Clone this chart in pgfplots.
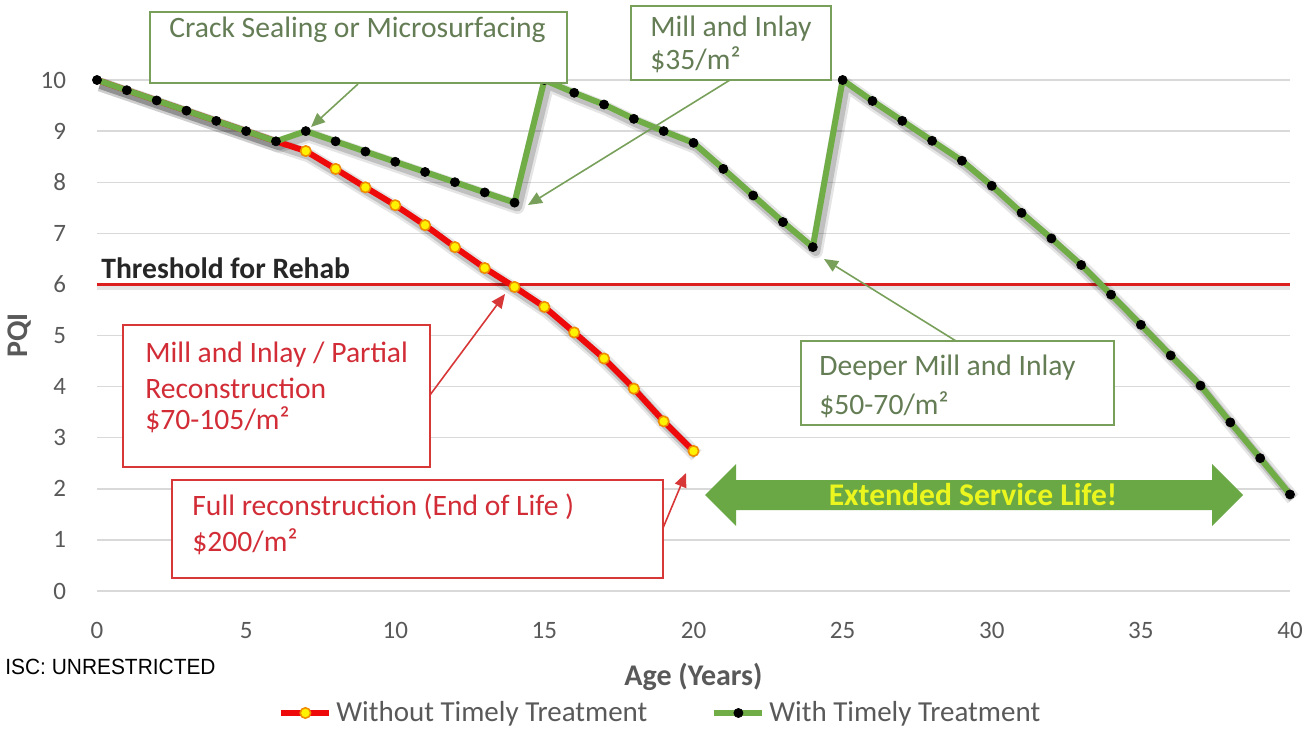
\documentclass[border=0pt]{standalone}
\usepackage{pgfplots}
\pgfplotsset{compat=1.18}
\usepackage{fontspec}
\setmainfont{Carlito}
\newfontfamily\arialfont{Liberation Sans}
\usetikzlibrary{arrows.meta}
\definecolor{xlgreen}{RGB}{112,173,71}
\definecolor{xlred}{RGB}{238,10,10}
\definecolor{thresh}{RGB}{220,30,30}
\definecolor{mkorange}{RGB}{240,140,0}
\definecolor{tickgray}{RGB}{89,89,89}
\definecolor{gridgray}{RGB}{217,217,217}
\definecolor{boxgreen}{RGB}{120,160,90}
\definecolor{txtgreen}{RGB}{100,125,85}
\definecolor{boxred}{RGB}{215,55,55}
\definecolor{txtred}{RGB}{210,45,55}
\definecolor{darktext}{RGB}{38,38,38}
\definecolor{arrowgreen}{RGB}{106,168,70}
\definecolor{arrowtext}{RGB}{235,245,30}
\newcommand\annfont{\fontsize{14.8}{17}\selectfont}

\pgfplotstableread{
x y
0 10
1 9.8
2 9.6
3 9.4
4 9.2
5 9.0
6 8.8
7 8.61
8 8.26
9 7.90
10 7.55
11 7.16
12 6.73
13 6.32
14 5.95
15 5.56
16 5.06
17 4.55
18 3.96
19 3.32
20 2.74
}\without

\pgfplotstableread{
x y
0 10
1 9.8
2 9.6
3 9.4
4 9.2
5 9.0
6 8.8
7 9.0
8 8.8
9 8.6
10 8.4
11 8.2
12 8.0
13 7.8
14 7.6
15 10
16 9.75
17 9.52
18 9.24
19 9.0
20 8.77
21 8.26
22 7.74
23 7.22
24 6.73
25 10
26 9.59
27 9.2
28 8.81
29 8.42
30 7.93
31 7.40
32 6.90
33 6.38
34 5.80
35 5.21
36 4.61
37 4.02
38 3.30
39 2.60
40 1.89
}\withtt

\begin{document}
\begin{tikzpicture}
\path[use as bounding box] (-48.5pt,-69.5pt) rectangle (606pt,295.5pt);
\begin{axis}[
  at={(0,0)}, anchor=south west,
  scale only axis, width=596.5pt, height=255.5pt,
  xmin=0, xmax=40, ymin=0, ymax=10,
  xtick={0,5,...,40}, ytick={0,1,...,10},
  ymajorgrids, grid style={gridgray, line width=0.7pt},
  axis line style={draw=none},
  major tick style={draw=none},
  /pgf/number format/assume math mode=true,
  tick label style={font=\fontsize{12.5}{14}\selectfont, text=tickgray},
  yticklabel style={xshift=-12pt},
  xticklabel style={yshift=-12pt},
  xlabel={Age (Years)}, ylabel={PQI},
  label style={font=\bfseries\fontsize{15}{17}\selectfont, text=tickgray},
  xlabel style={at={(axis description cs:0.5,-0.1683)}, anchor=center},
  ylabel style={at={(axis description cs:-0.0646,0.5)}, anchor=center},
  clip=false,
  legend columns=2,
  legend style={at={(0.473,-0.2387)}, anchor=center, draw=none, fill=none,
    font=\fontsize{14.5}{16}\selectfont, text=tickgray,
    /tikz/every even column/.append style={column sep=30pt},
    /tikz/every odd column/.append style={column sep=0pt}},
  legend cell align=left,
  legend image code/.code={\draw[mark repeat=2,mark phase=2,#1] plot coordinates {(0pt,0pt) (12pt,0pt) (24pt,0pt)};},
]
% threshold shadow and line
\addplot[forget plot, draw=black, opacity=0.10, line width=3pt, yshift=-1.5pt] coordinates {(0,6) (40,6)};
\addplot[forget plot, draw=thresh, line width=1.5pt] coordinates {(0,6) (40,6)};
% red series shadow
\addplot[forget plot, draw=black, opacity=0.16, line width=4.5pt, xshift=1.5pt, yshift=-2.2pt, line join=round] table {\without};
\addplot[forget plot, draw=black, opacity=0.10, line width=7pt, xshift=1.5pt, yshift=-2.2pt, line join=round] table {\without};
% green series shadow
\addplot[forget plot, draw=black, opacity=0.16, line width=4.5pt, xshift=1.5pt, yshift=-2.2pt, line join=round] table {\withtt};
\addplot[forget plot, draw=black, opacity=0.10, line width=7pt, xshift=1.5pt, yshift=-2.2pt, line join=round] table {\withtt};
% series
\addplot[forget plot, draw=xlred, line width=3pt, line join=round, mark=*, mark size=2.6pt,
  mark indices={8,...,21},
  mark options={fill=yellow, draw=mkorange, line width=0.8pt}] table {\without};
\addplot[forget plot, draw=xlgreen, line width=3pt, line join=round, mark=*, mark size=2.3pt,
  mark options={fill=black, draw=black, line width=0.3pt}] table {\withtt};
\addlegendimage{draw=xlred, line width=3pt, mark=*, mark size=2.6pt, mark options={fill=yellow, draw=mkorange, line width=0.8pt}}
\addlegendentry{Without Timely Treatment}
\addlegendimage{draw=xlgreen, line width=3pt, mark=*, mark size=2.3pt, mark options={fill=black, draw=black, line width=0.3pt}}
\addlegendentry{With Timely Treatment}
\end{axis}

\begin{scope}[x=0.5pt, y=-0.5pt, shift={(-97,-591)}]
% Crack sealing box
\draw[boxgreen, line width=0.9pt, fill=white] (150,12) rectangle (567,83);
\node[anchor=west, inner sep=0, text=txtgreen, font=\annfont] at (169,30) {Crack Sealing or Microsurfacing};
\draw[boxgreen, line width=0.8pt, -{Triangle[length=7pt,width=6pt]}] (358,84) -- (311,127);
% Mill and inlay box
\draw[boxgreen, line width=0.9pt, fill=white] (631,6) rectangle (831,80);
\node[anchor=west, inner sep=0, text=txtgreen, font=\annfont] at (650,29) {Mill and Inlay};
\node[anchor=west, inner sep=0, text=txtgreen, font=\annfont] at (650,60) {\$35/m²};
\draw[boxgreen, line width=0.8pt, -{Triangle[length=7pt,width=6pt]}] (730,80) -- (528,205);
% Deeper mill box
\draw[boxgreen, line width=0.9pt, fill=white] (801,341) rectangle (1114,425);
\node[anchor=west, inner sep=0, text=txtgreen, font=\annfont] at (819,368) {Deeper Mill and Inlay};
\node[anchor=west, inner sep=0, text=txtgreen, font=\annfont] at (819,405) {\$50-70/m²};
\draw[boxgreen, line width=0.8pt, -{Triangle[length=7pt,width=6pt]}] (956,341) -- (824,259);
% Red boxes
\draw[boxred, line width=0.9pt, fill=white] (123,325) rectangle (430,467);
\node[anchor=west, inner sep=0, text=txtred, font=\annfont] at (145,355) {Mill and Inlay / Partial};
\node[anchor=west, inner sep=0, text=txtred, font=\annfont] at (145,388) {Reconstruction};
\node[anchor=west, inner sep=0, text=txtred, font=\annfont] at (145,420) {\$70-105/m²};
\draw[boxred, line width=0.8pt, -{Triangle[length=7pt,width=6pt]}] (430,395) -- (505,294);
\draw[boxred, line width=0.9pt, fill=white] (172,480) rectangle (663,578);
\node[anchor=west, inner sep=0, text=txtred, font=\annfont] at (192,507) {Full reconstruction (End of Life )};
\node[anchor=west, inner sep=0, text=txtred, font=\annfont] at (192,542) {\$200/m²};
\draw[boxred, line width=0.8pt, -{Triangle[length=7pt,width=6pt]}] (663,528) -- (686,473);
% Threshold label
\node[anchor=west, inner sep=0, text=darktext, font=\bfseries\annfont] at (101,268) {Threshold for Rehab};
% Extended service life arrow
\fill[arrowgreen] (705,495) -- (736,464) -- (736,480) -- (1212,480) -- (1212,464) -- (1243,495)
  -- (1212,526) -- (1212,510) -- (736,510) -- (736,526) -- cycle;
\node[inner sep=0, text=arrowtext, font=\bfseries\fontsize{15.8}{18}\selectfont] at (973,495) {Extended Service Life!};
% ISC
\node[anchor=west, inner sep=0, font=\arialfont\fontsize{11}{13}\selectfont] at (5,667) {\scalebox{0.95}[1]{ISC: UNRESTRICTED}};
\end{scope}
\end{tikzpicture}
\end{document}
